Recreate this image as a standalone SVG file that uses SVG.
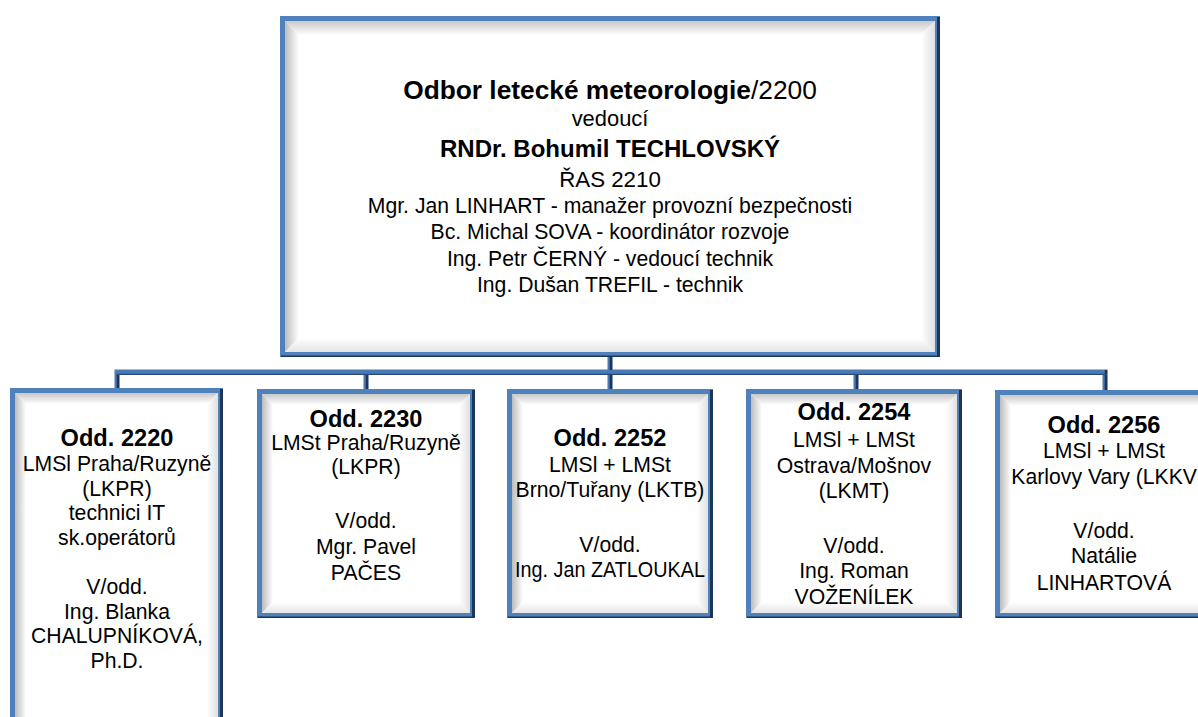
<svg xmlns="http://www.w3.org/2000/svg" width="1198" height="717" viewBox="0 0 1198 717">
<style>
.frame{fill:#ffffff;stroke:#4f81bd;stroke-width:5}
.dk{stroke:#1d3658;fill:none}
.bt{fill:url(#gTop)}
.bl{fill:url(#gLeft)}
.br{fill:url(#gRight)}
.bb{fill:url(#gBot)}
.conn{fill:none;stroke:#4a79b5;stroke-width:5;stroke-linejoin:miter}
.conndk{fill:none;stroke:#1d3658;stroke-width:2.5}
.connln{fill:none;stroke:#2b4d7b;stroke-width:1.2}
text{font-family:"Liberation Sans","Open Sans",sans-serif;fill:#000;text-anchor:middle;font-size:21.2px}
.b{font-weight:bold;font-size:23.6px}
.title{font-size:26.3px}
.name{font-weight:bold;font-size:24px}
.ved{font-size:21.9px}
.ras{font-size:22.3px}
.st{font-size:21.2px}
</style>
<defs>
<linearGradient id="gTop" x1="0" y1="0" x2="0" y2="1"><stop offset="0" stop-color="#c8c8c8"/><stop offset="1" stop-color="#ffffff"/></linearGradient>
<linearGradient id="gLeft" x1="0" y1="0" x2="1" y2="0"><stop offset="0" stop-color="#bcbcbc"/><stop offset="1" stop-color="#ffffff"/></linearGradient>
<linearGradient id="gRight" x1="1" y1="0" x2="0" y2="0"><stop offset="0" stop-color="#e0e0e0"/><stop offset="1" stop-color="#ffffff"/></linearGradient>
<linearGradient id="gBot" x1="0" y1="1" x2="0" y2="0"><stop offset="0" stop-color="#e4e4e4"/><stop offset="1" stop-color="#ffffff"/></linearGradient>
</defs>

<g id="connectors">
<path class="conn" d="M610 354 V372"/>
<path class="conn" d="M117 390 V372 H1105 V392"/>
<path class="conn" d="M366 372 V391 M610 372 V391 M856 372 V391"/>
<path class="conndk" d="M611 356 V370 M118 374 V390 M367 375 V391 M611 375 V391 M857 375 V391 M1106 370 V392"/>
<path class="connln" d="M117 374.3 H1107"/>
</g>

<g id="n2200">
<rect class="frame" x="282.5" y="18.5" width="655" height="336"/>
<polygon class="bt" points="285,21 935,21 921,35 299,35"/>
<polygon class="bl" points="285,21 299,35 299,338 285,352"/>
<polygon class="br" points="935,21 935,352 921,338 921,35"/>
<polygon class="bb" points="285,352 935,352 921,338 299,338"/>
<path class="dk" stroke-width="3" d="M938.5 17 V357"/>
<path class="dk" stroke-width="1.5" d="M281 356.2 H940"/>
<text class="title" x="610" y="99"><tspan font-weight="bold">Odbor letecké meteorologie</tspan>/2200</text>
<text class="ved" x="610" y="126">vedoucí</text>
<text class="name" x="610" y="157">RNDr. Bohumil TECHLOVSKÝ</text>
<text class="ras" x="610" y="187">ŘAS 2210</text>
<text class="st" x="610" y="213">Mgr. Jan LINHART - manažer provozní bezpečnosti</text>
<text class="st" x="610" y="239">Bc. Michal SOVA - koordinátor rozvoje</text>
<text class="st" x="610" y="266">Ing. Petr ČERNÝ - vedoucí technik</text>
<text class="st" x="610" y="292">Ing. Dušan TREFIL - technik</text>
</g>

<g id="n2220">
<rect class="frame" x="12.5" y="390.5" width="208" height="340"/>
<polygon class="bt" points="15,393 218,393 207,404 26,404"/>
<polygon class="bl" points="15,393 26,404 26,717 15,717"/>
<polygon class="br" points="218,393 218,717 207,717 207,404"/>
<path class="dk" stroke-width="3" d="M221.5 389 V717"/>
<text class="b" x="117" y="446">Odd. 2220</text>
<text x="117" y="471">LMSl Praha/Ruzyně</text>
<text x="117" y="495.5">(LKPR)</text>
<text x="117" y="520">technici IT</text>
<text x="117" y="544.5">sk.operátorů</text>
<text x="117" y="594">V/odd.</text>
<text x="117" y="618.5">Ing. Blanka</text>
<text x="117" y="643">CHALUPNÍKOVÁ,</text>
<text x="117" y="667.5">Ph.D.</text>
</g>

<g id="n2230">
<rect class="frame" x="259.5" y="391.5" width="213" height="224"/>
<polygon class="bt" points="262,394 470,394 459,405 273,405"/>
<polygon class="bl" points="262,394 273,405 273,602 262,613"/>
<polygon class="br" points="470,394 470,613 459,602 459,405"/>
<polygon class="bb" points="262,613 470,613 459,602 273,602"/>
<path class="dk" stroke-width="3" d="M473.5 390 V618"/>
<path class="dk" stroke-width="1.5" d="M258 617.2 H475"/>
<text class="b" x="366" y="427">Odd. 2230</text>
<text x="366" y="450">LMSt Praha/Ruzyně</text>
<text x="366" y="474">(LKPR)</text>
<text x="366" y="528">V/odd.</text>
<text x="366" y="554">Mgr. Pavel</text>
<text x="366" y="580">PAČES</text>
</g>

<g id="n2252">
<rect class="frame" x="509.5" y="391.5" width="201" height="224"/>
<polygon class="bt" points="512,394 708,394 697,405 523,405"/>
<polygon class="bl" points="512,394 523,405 523,602 512,613"/>
<polygon class="br" points="708,394 708,613 697,602 697,405"/>
<polygon class="bb" points="512,613 708,613 697,602 523,602"/>
<path class="dk" stroke-width="3" d="M711.5 390 V618"/>
<path class="dk" stroke-width="1.5" d="M508 617.2 H713"/>
<text class="b" x="610" y="446">Odd. 2252</text>
<text x="610" y="472">LMSl + LMSt</text>
<text x="610" y="497">Brno/Tuřany (LKTB)</text>
<text x="610" y="552">V/odd.</text>
<text x="610" y="577" textLength="190" lengthAdjust="spacingAndGlyphs">Ing. Jan ZATLOUKAL</text>
</g>

<g id="n2254">
<rect class="frame" x="748.5" y="391.5" width="211" height="224"/>
<polygon class="bt" points="751,394 957,394 946,405 762,405"/>
<polygon class="bl" points="751,394 762,405 762,602 751,613"/>
<polygon class="br" points="957,394 957,613 946,602 946,405"/>
<polygon class="bb" points="751,613 957,613 946,602 762,602"/>
<path class="dk" stroke-width="3" d="M960.5 390 V618"/>
<path class="dk" stroke-width="1.5" d="M747 617.2 H962"/>
<text class="b" x="854" y="420">Odd. 2254</text>
<text x="854" y="447">LMSl + LMSt</text>
<text x="854" y="473">Ostrava/Mošnov</text>
<text x="854" y="498">(LKMT)</text>
<text x="854" y="553">V/odd.</text>
<text x="854" y="578">Ing. Roman</text>
<text x="854" y="604">VOŽENÍLEK</text>
</g>

<g id="n2256">
<rect class="frame" x="997.5" y="392.5" width="215" height="223"/>
<polygon class="bt" points="1000,395 1210,395 1199,406 1011,406"/>
<polygon class="bl" points="1000,395 1011,406 1011,602 1000,613"/>
<polygon class="bb" points="1000,613 1210,613 1199,602 1011,602"/>
<path class="dk" stroke-width="1.5" d="M996 617.2 H1198"/>
<text class="b" x="1104" y="433">Odd. 2256</text>
<text x="1104" y="458">LMSl + LMSt</text>
<text x="1197" y="484" style="text-anchor:end">Karlovy Vary (LKKV</text>
<text x="1104" y="538">V/odd.</text>
<text x="1104" y="563">Natálie</text>
<text x="1104" y="590">LINHARTOVÁ</text>
</g>
</svg>
